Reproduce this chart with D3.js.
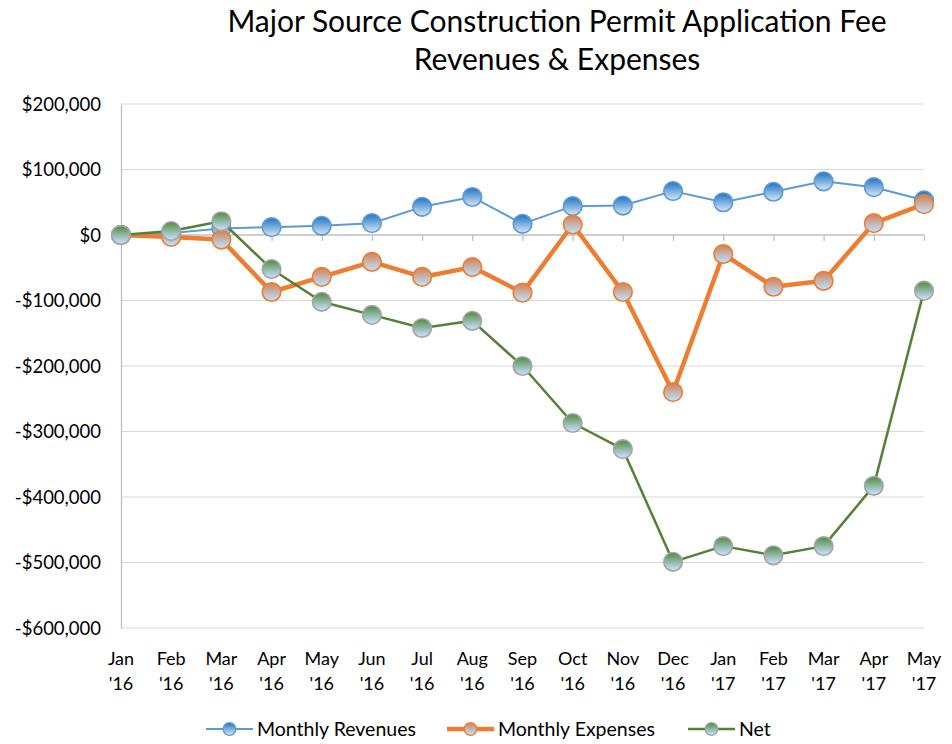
<!DOCTYPE html>
<html lang="en">
<head>
    <meta charset="UTF-8">
    <title>Major Source Construction Permit Application Fee</title>
    <script src="https://d3js.org/d3.v7.min.js"></script>
    <style>
        body { margin: 0; background: #fff; }
        svg text { font-family: Lato, "Open Sans", Arial, sans-serif; fill: #000; }
        .grid line { stroke: #d9d9d9; stroke-width: 1; }
        .axis path, .axis line { stroke: #bfbfbf; stroke-width: 1.3; }
    </style>
</head>
<body>
    <svg width="952" height="744"></svg>

    <script>
        const months = ["Jan", "Feb", "Mar", "Apr", "May", "Jun", "Jul", "Aug", "Sep", "Oct", "Nov", "Dec",
                        "Jan", "Feb", "Mar", "Apr", "May"];
        const years = ["'16", "'16", "'16", "'16", "'16", "'16", "'16", "'16", "'16", "'16", "'16", "'16",
                       "'17", "'17", "'17", "'17", "'17"];
        const categories = months.map((m, i) => m + " " + years[i]);

        const revenues = [0, 3000, 10000, 12000, 14000, 18000, 43000, 58000, 17000, 44000, 45000, 67000,
                          50000, 66000, 82000, 73000, 53000];
        const expenses = [0, -3000, -7000, -87000, -64000, -41000, -64000, -49000, -88000, 16000, -87000, -240000,
                          -29000, -79000, -70000, 18000, 47000];
        const net = [0, 6000, 21000, -52000, -102000, -122000, -142000, -131000, -200000, -287000, -327000, -499000,
                     -475000, -489000, -475000, -383000, -85000];

        const yTicks = [200000, 100000, 0, -100000, -200000, -300000, -400000, -500000, -600000];

        const series = [
            { name: "Monthly Revenues", values: revenues, color: "#5b9bd5", width: 2, border: "#5b9bd5", topColor: "#1d73c4", id: "gRev" },
            { name: "Monthly Expenses", values: expenses, color: "#ed7d31", width: 4.5, border: "#ed7d31", topColor: "#d6804f", id: "gExp" },
            { name: "Net", values: net, color: "#548235", width: 2.5, border: "#a5a5a5", topColor: "#4f8a3c", id: "gNet" }
        ];

        const svg = d3.select("svg");
        const plotLeft = 121, plotRight = 924, plotTop = 104, plotBottom = 628;

        const x = d3.scalePoint().domain(categories).range([plotLeft, plotRight]);
        const y = d3.scaleLinear().domain([-600000, 200000]).range([plotBottom, plotTop]);

        // marker gradients
        const defs = svg.append("defs");
        series.forEach(s => {
            const grad = defs.append("linearGradient")
                .attr("id", s.id)
                .attr("x1", 0).attr("y1", 0).attr("x2", 0).attr("y2", 1);
            grad.append("stop").attr("offset", "0%").attr("stop-color", s.topColor);
            grad.append("stop").attr("offset", "85%").attr("stop-color", "#bdd7ee");
            grad.append("stop").attr("offset", "100%").attr("stop-color", "#c9e0f3");
        });

        // title
        svg.append("text").attr("x", 557).attr("y", 32).attr("text-anchor", "middle")
            .style("font-size", "30px").text("Major Source Construction Permit Application Fee");
        svg.append("text").attr("x", 557).attr("y", 70).attr("text-anchor", "middle")
            .style("font-size", "30px").text("Revenues & Expenses");

        // gridlines
        svg.append("g").attr("class", "grid")
            .selectAll("line").data(yTicks.filter(d => d !== 0)).enter().append("line")
            .attr("x1", plotLeft).attr("x2", plotRight)
            .attr("y1", d => y(d)).attr("y2", d => y(d));

        // y axis
        const yAxis = d3.axisLeft(y).tickValues(yTicks).tickSize(0).tickPadding(20)
            .tickFormat(d => (d < 0 ? "-$" : "$") + d3.format(",")(Math.abs(d)));
        const gy = svg.append("g").attr("class", "axis").attr("transform", `translate(${plotLeft},0)`).call(yAxis);
        gy.selectAll("text").style("font-size", "18.5px").attr("dy", "0.35em");

        // x axis at zero
        const xAxis = d3.axisBottom(x).tickSize(6).tickSizeOuter(0).tickFormat("");
        svg.append("g").attr("class", "axis").attr("transform", `translate(0,${y(0)})`).call(xAxis)
            .select(".domain").attr("d", `M${plotLeft},0H${plotRight}`);

        // x labels
        const xl = svg.append("g").selectAll("text").data(categories).enter().append("text")
            .attr("text-anchor", "middle").style("font-size", "18px")
            .attr("x", d => x(d)).attr("y", 665);
        xl.append("tspan").attr("x", d => x(d)).text((d, i) => months[i]);
        xl.append("tspan").attr("x", d => x(d)).attr("dy", 25).text((d, i) => years[i]);

        // lines and markers
        const line = d3.line().x((d, i) => x(categories[i])).y(d => y(d));
        series.forEach(s => {
            const g = svg.append("g");
            g.append("path").datum(s.values)
                .attr("fill", "none").attr("stroke", s.color).attr("stroke-width", s.width)
                .attr("stroke-linejoin", "round").attr("d", line);
            g.selectAll("circle").data(s.values).enter().append("circle")
                .attr("cx", (d, i) => x(categories[i])).attr("cy", d => y(d))
                .attr("r", 9.3).attr("fill", `url(#${s.id})`)
                .attr("stroke", s.border).attr("stroke-width", 1.6);
        });

        // legend
        const legendX = [206, 447, 688];
        const legend = svg.append("g").selectAll("g").data(series).enter().append("g")
            .attr("transform", (d, i) => `translate(${legendX[i]},729)`);
        legend.append("line").attr("x1", 0).attr("x2", 47)
            .attr("stroke", d => d.color).attr("stroke-width", d => d.width);
        legend.append("circle").attr("cx", 23.5).attr("r", 6.3)
            .attr("fill", d => `url(#${d.id})`).attr("stroke", d => d.border).attr("stroke-width", 1.3);
        legend.append("text").attr("x", 51).attr("dy", "0.35em").style("font-size", "19.5px").text(d => d.name);
    </script>
</body>
</html>
